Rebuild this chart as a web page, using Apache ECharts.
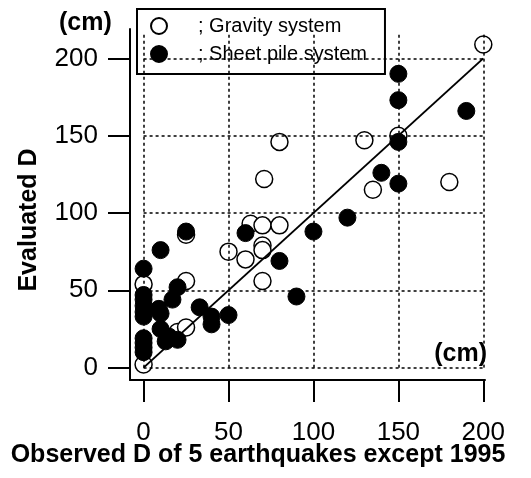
<!DOCTYPE html>
<html><head><meta charset="utf-8">
<script src="https://cdn.jsdelivr.net/npm/echarts@6/dist/echarts.min.js"></script>
<style>html,body{margin:0;padding:0;background:#fff}#c{width:531px;height:478px}</style>
</head><body><div id="c"></div>
<script>
var xTicks = [0, 50, 100, 150, 200];
var yTicks = [0, 50, 100, 150, 200];
var gravity = [[0,2],[0,54],[20,23],[25,26],[25,56],[25,86],[50,75],[60,70],[63,93],[70,92],[70,79],[70,76],[70,56],[71,122],[80,92],[80,146],[130,147],[135,115],[150,150],[180,120],[200,209]];
var sheetPile = [[0,64],[0,47],[0,44],[0,40],[0,36],[0,33],[0,19],[0,16],[0,13],[0,10],[10,76],[9,38],[10,35],[10,25],[13,17],[15,20],[17,44],[20,52],[20,18],[25,88],[33,39],[40,33],[40,28],[50,34],[60,87],[80,69],[90,46],[100,88],[120,97],[140,126],[150,190],[150,173],[150,146],[150,119],[190,166]];
var diagonal = [[0,0],[200,200]];

var grid = [];
xTicks.forEach(function(v){ grid.push([{coord:[v,0]},{coord:[v,216]}]); });
yTicks.forEach(function(v){ grid.push([{coord:[0,v]},{coord:[200,v]}]); });

var chart = echarts.init(document.getElementById('c'));
chart.setOption({
  animation:false,
  backgroundColor:'#fff',
  grid:{left:130, right:46, top:29, bottom:98},
  xAxis:{type:'value', min:-8, max:201,
    axisLine:{show:true, onZero:false, lineStyle:{color:'#000', width:2}},
    axisTick:{show:true, inside:false, length:22, customValues:xTicks, lineStyle:{color:'#000', width:2}},
    axisLabel:{customValues:xTicks, margin:40, color:'#000', fontSize:26, fontFamily:'Liberation Sans'},
    splitLine:{show:false}},
  yAxis:{type:'value', min:-8, max:219,
    axisLine:{show:true, onZero:false, lineStyle:{color:'#000', width:2}},
    axisTick:{show:true, length:22, customValues:yTicks, lineStyle:{color:'#000', width:2}},
    axisLabel:{customValues:yTicks, margin:32, color:'#000', fontSize:26, fontFamily:'Liberation Sans'},
    splitLine:{show:false}},
  legend:{left:137, top:9, orient:'vertical', backgroundColor:'#fff', borderColor:'#000', borderWidth:2, borderRadius:0,
    padding:[7,18,10,13], itemGap:8, itemWidth:16, itemHeight:16,
    data:['Gravity system','Sheet pile system'],
    formatter:function(n){return '; '+n;},
    textStyle:{color:'#000', fontSize:20, fontFamily:'Liberation Sans', padding:[0,0,0,26]}},
  graphic:[
    {type:'text', x:59, y:23, style:{text:'(cm)', font:'bold 25px Liberation Sans', fill:'#000', align:'left', verticalAlign:'middle'}},
    {type:'text', x:487, y:354, style:{text:'(cm)', font:'bold 25px Liberation Sans', fill:'#000', align:'right', verticalAlign:'middle'}},
    {type:'text', x:29, y:220, rotation:Math.PI/2, style:{text:'Evaluated D', font:'bold 25px Liberation Sans', fill:'#000', align:'center', verticalAlign:'middle'}},
    {type:'text', x:258, y:455, style:{text:'Observed D of 5 earthquakes except 1995', font:'bold 25px Liberation Sans', fill:'#000', align:'center', verticalAlign:'middle'}}
  ],
  series:[
    {type:'line', name:'grid', data:[], silent:true, symbol:'none',
      markLine:{silent:true, symbol:'none', label:{show:false}, lineStyle:{color:'#000', type:[3,3], width:1.5}, data:grid}},
    {type:'line', name:'diag', data:diagonal, symbol:'none', lineStyle:{color:'#000', width:2}, silent:true},
    {type:'scatter', name:'Gravity system', data:gravity, symbol:'circle', symbolSize:17,
      itemStyle:{color:'#fff', borderColor:'#000', borderWidth:1.5, opacity:1}},
    {type:'scatter', name:'Sheet pile system', data:sheetPile, symbol:'circle', symbolSize:17,
      itemStyle:{color:'#000', borderColor:'#000', borderWidth:1, opacity:1}}
  ]
});
</script></body></html>
